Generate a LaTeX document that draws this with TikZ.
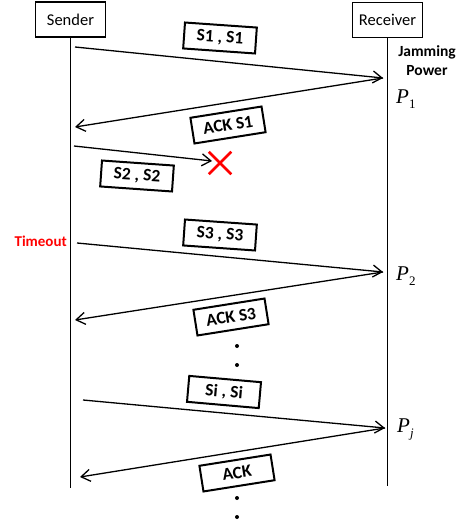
\documentclass[tikz,border=0pt]{standalone}
\usepackage{fontspec}
\setmainfont{Carlito}
\newfontfamily\tms{Liberation Serif}
\usetikzlibrary{arrows.meta,shapes.misc}
\begin{document}
\begin{tikzpicture}[x=1pt,y=-1pt,
 actor/.style={draw, line width=1.2pt, minimum width=70pt, minimum height=35pt, font=\fontsize{16.5}{18}\selectfont, inner sep=0pt},
 life/.style={line width=1.6pt},
 msg/.style={line width=1.3pt, -{Straight Barb[length=9pt,width=12pt,line width=1.3pt]}},
 tag/.style={draw, line width=2pt, minimum width=72pt, minimum height=26pt, font=\bfseries\fontsize{17.5}{18}\selectfont, inner sep=0pt},
 pw/.style={anchor=base west, font=\tms\itshape\fontsize{21}{24}\selectfont, inner sep=0pt},
 dot/.style={circle, fill, inner sep=0pt, minimum size=4pt}]
\useasboundingbox (0,0) rectangle (461,529);
\newcommand\psub[1]{\raisebox{-5pt}{\fontsize{13}{13}\selectfont #1}}
% actors
\node[actor] (snd) at (70.5,19.5) {Sender};
\node[actor] (rcv) at (387.5,20) {Receiver};
\coordinate (sndend) at (71,488);
\coordinate (rcvend) at (387,486);
\draw[life] (snd.south) -- (snd.south |- sndend);
\draw[life] (rcv.south) -- (rcv.south |- rcvend);
% message points
\coordinate (a1s) at (75,47);
\coordinate (a1r) at (383,78);
\coordinate (a2s) at (75,127);
\coordinate (a3s) at (74,146);
\coordinate (a3e) at (212,161);
\coordinate (a4s) at (77,243);
\coordinate (a4r) at (383,272);
\coordinate (a5s) at (75,320);
\coordinate (a6s) at (83,400);
\coordinate (a6r) at (385,428);
\coordinate (a7s) at (80,477);
% messages
\draw[msg] (a1s) -- (a1r);
\draw[msg] (a1r) -- (a2s);
\draw[msg] (a3s) -- (a3e);
\draw[msg] (a4s) -- (a4r);
\draw[msg] (a4r) -- (a5s);
\draw[msg] (a6s) -- (a6r);
\draw[msg] (a6r) -- (a7s);
% lost packet
\node[cross out, draw=red, line width=2.5pt, minimum size=20pt, inner sep=0pt] (lost) at (220,163) {};
% tags
\node[tag, rotate=-4] (t1) at (220,38) {S1 , S1};
\node[tag, rotate=9] (t2) at (228,125) {ACK S1};
\node[tag, rotate=-4] (t3) at (137,176) {S2 , S2};
\node[tag, rotate=-4] (t4) at (220,235) {S3 , S3};
\node[tag, rotate=9] (t5) at (231,317) {ACK S3};
\node[tag, rotate=-5] (t6) at (224,392) {Si , Si};
\node[tag, rotate=9] (t7) at (237,473) {ACK};
% labels
\node[font=\bfseries\fontsize{15}{15}\selectfont, text=red, anchor=east, inner sep=0pt] (tout) at (67,241) {Timeout};
\node[font=\bfseries\fontsize{15.5}{19}\selectfont, align=center, inner sep=0pt] (jam) at (427,61) {Jamming\\Power};
\node[pw] (p1) at (396,104) {P\psub{\upshape 1}};
\node[pw] (p2) at (396,280) {P\psub{\upshape 2}};
\node[pw] (pj) at (397,432) {P\psub{j}};
% dots
\node[dot] (d1) at (237,346) {};
\node[dot] (d2) at (237,365) {};
\node[dot] (d3) at (237,498) {};
\node[dot] (d4) at (237,517) {};
\end{tikzpicture}
\end{document}
